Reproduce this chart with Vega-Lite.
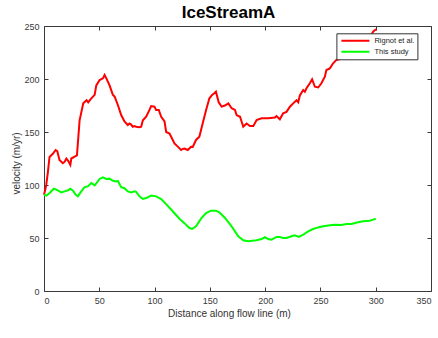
{
  "$schema": "https://vega.github.io/schema/vega-lite/v6.json",
  "width": 387,
  "height": 265,
  "autosize": "none",
  "padding": {"left": 44, "top": 26, "right": 7, "bottom": 47},
  "background": "white",
  "title": {"text": "IceStreamA", "fontSize": 17, "font": "Liberation Sans", "fontWeight": "bold", "color": "#000000", "anchor": "middle", "dx": -9, "offset": 0},
  "config": {
    "font": "Liberation Sans",
    "view": {"stroke": "#3a3a3a", "strokeWidth": 1},
    "axis": {
      "domain": false, "grid": false, "tickSize": 4, "offset": -4, "tickColor": "#3a3a3a", "tickWidth": 1,
      "labelFont": "Liberation Sans", "labelFontSize": 9, "labelColor": "#3a3a3a", "labelPadding": 5,
      "titleFont": "Liberation Sans", "titleFontSize": 10, "titleFontWeight": "normal", "titleColor": "#333333"
    },
    "legend": {
      "orient": "none", "legendX": 292.4, "legendY": 7.3,
      "fillColor": "white", "strokeColor": "#333333", "padding": 2,
      "symbolType": "stroke", "symbolSize": 784, "symbolStrokeWidth": 2, "symbolOffset": 2,
      "clipHeight": 11, "rowPadding": 0,
      "labelFont": "Liberation Sans", "labelFontSize": 7.5, "labelColor": "#222222",
      "labelOffset": 4
    }
  },
  "data": {"values": [
    {"series": "Rignot et al.", "x": 0, "y": 90.8},
    {"series": "Rignot et al.", "x": 1, "y": 95},
    {"series": "Rignot et al.", "x": 2, "y": 100},
    {"series": "Rignot et al.", "x": 3.5, "y": 112},
    {"series": "Rignot et al.", "x": 5, "y": 126.5},
    {"series": "Rignot et al.", "x": 8, "y": 129.5},
    {"series": "Rignot et al.", "x": 10.5, "y": 133},
    {"series": "Rignot et al.", "x": 12, "y": 132},
    {"series": "Rignot et al.", "x": 14, "y": 123.6},
    {"series": "Rignot et al.", "x": 17, "y": 120.5},
    {"series": "Rignot et al.", "x": 18.7, "y": 122},
    {"series": "Rignot et al.", "x": 20.2, "y": 125},
    {"series": "Rignot et al.", "x": 21.7, "y": 123},
    {"series": "Rignot et al.", "x": 23.8, "y": 119},
    {"series": "Rignot et al.", "x": 24.7, "y": 125},
    {"series": "Rignot et al.", "x": 27.7, "y": 126.7},
    {"series": "Rignot et al.", "x": 29.8, "y": 128},
    {"series": "Rignot et al.", "x": 32.2, "y": 161},
    {"series": "Rignot et al.", "x": 35.5, "y": 177},
    {"series": "Rignot et al.", "x": 38.5, "y": 180},
    {"series": "Rignot et al.", "x": 40, "y": 178},
    {"series": "Rignot et al.", "x": 42.8, "y": 181.7},
    {"series": "Rignot et al.", "x": 45.8, "y": 185},
    {"series": "Rignot et al.", "x": 47.3, "y": 194},
    {"series": "Rignot et al.", "x": 50.3, "y": 199},
    {"series": "Rignot et al.", "x": 53.3, "y": 200.6},
    {"series": "Rignot et al.", "x": 54.8, "y": 203.8},
    {"series": "Rignot et al.", "x": 56.4, "y": 200.6},
    {"series": "Rignot et al.", "x": 59.3, "y": 194},
    {"series": "Rignot et al.", "x": 62.3, "y": 185},
    {"series": "Rignot et al.", "x": 63.8, "y": 183.6},
    {"series": "Rignot et al.", "x": 66.8, "y": 175.5},
    {"series": "Rignot et al.", "x": 69.8, "y": 166},
    {"series": "Rignot et al.", "x": 72.8, "y": 160},
    {"series": "Rignot et al.", "x": 75.8, "y": 156.6},
    {"series": "Rignot et al.", "x": 77.3, "y": 158},
    {"series": "Rignot et al.", "x": 78.8, "y": 157},
    {"series": "Rignot et al.", "x": 80.3, "y": 155},
    {"series": "Rignot et al.", "x": 81.8, "y": 155.6},
    {"series": "Rignot et al.", "x": 83.3, "y": 155},
    {"series": "Rignot et al.", "x": 86.4, "y": 154.4},
    {"series": "Rignot et al.", "x": 87.9, "y": 155},
    {"series": "Rignot et al.", "x": 89.4, "y": 161},
    {"series": "Rignot et al.", "x": 92.4, "y": 164.4},
    {"series": "Rignot et al.", "x": 95.4, "y": 170.8},
    {"series": "Rignot et al.", "x": 96.9, "y": 174.5},
    {"series": "Rignot et al.", "x": 99.9, "y": 173.9},
    {"series": "Rignot et al.", "x": 101.4, "y": 170.8},
    {"series": "Rignot et al.", "x": 103.8, "y": 170.8},
    {"series": "Rignot et al.", "x": 106, "y": 164.4},
    {"series": "Rignot et al.", "x": 109, "y": 160},
    {"series": "Rignot et al.", "x": 110.5, "y": 150},
    {"series": "Rignot et al.", "x": 113.5, "y": 148.6},
    {"series": "Rignot et al.", "x": 115, "y": 145.6},
    {"series": "Rignot et al.", "x": 118, "y": 139.3},
    {"series": "Rignot et al.", "x": 121, "y": 136.2},
    {"series": "Rignot et al.", "x": 124, "y": 133},
    {"series": "Rignot et al.", "x": 125.5, "y": 134},
    {"series": "Rignot et al.", "x": 127, "y": 134.3},
    {"series": "Rignot et al.", "x": 130, "y": 133},
    {"series": "Rignot et al.", "x": 133, "y": 136.1},
    {"series": "Rignot et al.", "x": 134.5, "y": 136},
    {"series": "Rignot et al.", "x": 137.5, "y": 142.5},
    {"series": "Rignot et al.", "x": 140.5, "y": 145.6},
    {"series": "Rignot et al.", "x": 143.5, "y": 158},
    {"series": "Rignot et al.", "x": 146.6, "y": 170.8},
    {"series": "Rignot et al.", "x": 149.6, "y": 181.8},
    {"series": "Rignot et al.", "x": 152, "y": 185},
    {"series": "Rignot et al.", "x": 154, "y": 186.5},
    {"series": "Rignot et al.", "x": 155.5, "y": 188},
    {"series": "Rignot et al.", "x": 158, "y": 178},
    {"series": "Rignot et al.", "x": 160.6, "y": 173.9},
    {"series": "Rignot et al.", "x": 163.6, "y": 175},
    {"series": "Rignot et al.", "x": 166.7, "y": 177},
    {"series": "Rignot et al.", "x": 169.7, "y": 172.4},
    {"series": "Rignot et al.", "x": 172.7, "y": 170.8},
    {"series": "Rignot et al.", "x": 174.2, "y": 166},
    {"series": "Rignot et al.", "x": 177.3, "y": 164.4},
    {"series": "Rignot et al.", "x": 180.2, "y": 155},
    {"series": "Rignot et al.", "x": 183.2, "y": 158},
    {"series": "Rignot et al.", "x": 186.3, "y": 155.6},
    {"series": "Rignot et al.", "x": 189.3, "y": 155.7},
    {"series": "Rignot et al.", "x": 192.3, "y": 161.3},
    {"series": "Rignot et al.", "x": 196.8, "y": 163},
    {"series": "Rignot et al.", "x": 202.8, "y": 163},
    {"series": "Rignot et al.", "x": 208.8, "y": 163.6},
    {"series": "Rignot et al.", "x": 210.3, "y": 165},
    {"series": "Rignot et al.", "x": 213.3, "y": 162},
    {"series": "Rignot et al.", "x": 216.3, "y": 167.6},
    {"series": "Rignot et al.", "x": 219.3, "y": 169},
    {"series": "Rignot et al.", "x": 222.4, "y": 173.9},
    {"series": "Rignot et al.", "x": 225.4, "y": 177},
    {"series": "Rignot et al.", "x": 228.4, "y": 180},
    {"series": "Rignot et al.", "x": 229.9, "y": 178},
    {"series": "Rignot et al.", "x": 231.4, "y": 184.5},
    {"series": "Rignot et al.", "x": 234.4, "y": 189.6},
    {"series": "Rignot et al.", "x": 235.9, "y": 188},
    {"series": "Rignot et al.", "x": 237.4, "y": 191.2},
    {"series": "Rignot et al.", "x": 240.4, "y": 196},
    {"series": "Rignot et al.", "x": 242.5, "y": 199.7},
    {"series": "Rignot et al.", "x": 245, "y": 192.7},
    {"series": "Rignot et al.", "x": 248, "y": 192},
    {"series": "Rignot et al.", "x": 250.9, "y": 196},
    {"series": "Rignot et al.", "x": 254, "y": 202.2},
    {"series": "Rignot et al.", "x": 255.4, "y": 208.5},
    {"series": "Rignot et al.", "x": 258.5, "y": 210},
    {"series": "Rignot et al.", "x": 261.5, "y": 214.8},
    {"series": "Rignot et al.", "x": 264.5, "y": 218},
    {"series": "Rignot et al.", "x": 268, "y": 219},
    {"series": "Rignot et al.", "x": 272, "y": 222},
    {"series": "Rignot et al.", "x": 277, "y": 226},
    {"series": "Rignot et al.", "x": 282, "y": 230},
    {"series": "Rignot et al.", "x": 287, "y": 234},
    {"series": "Rignot et al.", "x": 292, "y": 238},
    {"series": "Rignot et al.", "x": 296, "y": 242},
    {"series": "Rignot et al.", "x": 298, "y": 245},
    {"series": "Rignot et al.", "x": 300.5, "y": 247},
    {"series": "This study", "x": 0, "y": 90.8},
    {"series": "This study", "x": 2.1, "y": 90},
    {"series": "This study", "x": 5.1, "y": 92.5},
    {"series": "This study", "x": 8.8, "y": 96.5},
    {"series": "This study", "x": 11.2, "y": 95.6},
    {"series": "This study", "x": 15.7, "y": 93},
    {"series": "This study", "x": 18.7, "y": 94},
    {"series": "This study", "x": 21.7, "y": 95},
    {"series": "This study", "x": 23.8, "y": 96.5},
    {"series": "This study", "x": 26.2, "y": 94.6},
    {"series": "This study", "x": 28.6, "y": 91},
    {"series": "This study", "x": 30.7, "y": 89.3},
    {"series": "This study", "x": 33.7, "y": 94},
    {"series": "This study", "x": 36.7, "y": 98},
    {"series": "This study", "x": 39.7, "y": 98.7},
    {"series": "This study", "x": 42.8, "y": 101.9},
    {"series": "This study", "x": 45.8, "y": 99.7},
    {"series": "This study", "x": 47.3, "y": 101.5},
    {"series": "This study", "x": 50.3, "y": 105.7},
    {"series": "This study", "x": 53.3, "y": 107.2},
    {"series": "This study", "x": 56.3, "y": 105.7},
    {"series": "This study", "x": 59.3, "y": 106},
    {"series": "This study", "x": 62.3, "y": 104},
    {"series": "This study", "x": 65.3, "y": 103.4},
    {"series": "This study", "x": 66.8, "y": 103.8},
    {"series": "This study", "x": 69.8, "y": 98},
    {"series": "This study", "x": 72.8, "y": 97},
    {"series": "This study", "x": 75.8, "y": 94},
    {"series": "This study", "x": 78.8, "y": 93},
    {"series": "This study", "x": 81.8, "y": 94},
    {"series": "This study", "x": 83.3, "y": 93.5},
    {"series": "This study", "x": 86.4, "y": 89.3},
    {"series": "This study", "x": 89.4, "y": 86.8},
    {"series": "This study", "x": 92.4, "y": 87.7},
    {"series": "This study", "x": 96.9, "y": 90},
    {"series": "This study", "x": 101.4, "y": 89.3},
    {"series": "This study", "x": 106, "y": 86.8},
    {"series": "This study", "x": 110.5, "y": 82},
    {"series": "This study", "x": 116.4, "y": 75.2},
    {"series": "This study", "x": 122.5, "y": 68.2},
    {"series": "This study", "x": 127, "y": 64},
    {"series": "This study", "x": 131.5, "y": 59.4},
    {"series": "This study", "x": 134, "y": 58.5},
    {"series": "This study", "x": 137.5, "y": 61},
    {"series": "This study", "x": 142, "y": 68.2},
    {"series": "This study", "x": 146.6, "y": 73.6},
    {"series": "This study", "x": 151, "y": 75.8},
    {"series": "This study", "x": 155.5, "y": 75.8},
    {"series": "This study", "x": 158.6, "y": 74.2},
    {"series": "This study", "x": 163.7, "y": 68.9},
    {"series": "This study", "x": 169.7, "y": 61},
    {"series": "This study", "x": 175.7, "y": 51.6},
    {"series": "This study", "x": 180.2, "y": 47.8},
    {"series": "This study", "x": 184.7, "y": 46.9},
    {"series": "This study", "x": 192.2, "y": 47.8},
    {"series": "This study", "x": 196.7, "y": 49},
    {"series": "This study", "x": 199.8, "y": 50.7},
    {"series": "This study", "x": 202.8, "y": 49},
    {"series": "This study", "x": 205.8, "y": 48.4},
    {"series": "This study", "x": 210.3, "y": 51},
    {"series": "This study", "x": 213.3, "y": 51},
    {"series": "This study", "x": 216.3, "y": 50},
    {"series": "This study", "x": 219.3, "y": 50},
    {"series": "This study", "x": 223.8, "y": 51.6},
    {"series": "This study", "x": 226.8, "y": 52.5},
    {"series": "This study", "x": 230.5, "y": 51},
    {"series": "This study", "x": 234.4, "y": 53.1},
    {"series": "This study", "x": 238.9, "y": 56.3},
    {"series": "This study", "x": 243.4, "y": 58.5},
    {"series": "This study", "x": 247.9, "y": 60},
    {"series": "This study", "x": 252.4, "y": 61},
    {"series": "This study", "x": 258.7, "y": 62},
    {"series": "This study", "x": 263, "y": 62.6},
    {"series": "This study", "x": 269, "y": 62.3},
    {"series": "This study", "x": 273.5, "y": 63.2},
    {"series": "This study", "x": 278, "y": 63.2},
    {"series": "This study", "x": 284, "y": 64.8},
    {"series": "This study", "x": 288.5, "y": 65.7},
    {"series": "This study", "x": 294.5, "y": 66.3},
    {"series": "This study", "x": 297.6, "y": 67.3},
    {"series": "This study", "x": 300, "y": 68.2}
  ]},
  "layer": [
    {
      "mark": {"type": "line", "strokeWidth": 2},
      "encoding": {
        "x": {"field": "x", "type": "quantitative", "scale": {"domain": [0, 350], "nice": false},
              "axis": {"orient": "bottom", "values": [0, 50, 100, 150, 200, 250, 300, 350], "title": "Distance along flow line (m)",
                       "titleX": 185, "titleY": 29, "titleBaseline": "alphabetic", "titleAlign": "center"}},
        "y": {"field": "y", "type": "quantitative", "scale": {"domain": [0, 250], "nice": false},
              "axis": {"orient": "left", "values": [0, 50, 100, 150, 200, 250], "title": "velocity (m/yr)",
                       "titleX": -32, "titleY": 137, "titleAngle": -90, "titleBaseline": "middle", "titleAlign": "center"}},
        "color": {"field": "series", "type": "nominal",
                  "scale": {"domain": ["Rignot et al.", "This study"], "range": ["#ff0000", "#00ff00"]},
                  "legend": {"title": null, "labelExpr": "datum.label + '\u00a0\u00a0\u00a0\u00a0\u00a0'"}}
      }
    },
    {
      "mark": {"type": "line", "opacity": 0},
      "encoding": {
        "x": {"field": "x", "type": "quantitative",
              "axis": {"orient": "top", "values": [0, 50, 100, 150, 200, 250, 300, 350], "labels": false, "title": null}},
        "y": {"field": "y", "type": "quantitative",
              "axis": {"orient": "right", "values": [0, 50, 100, 150, 200, 250], "labels": false, "title": null}},
        "detail": {"field": "series"}
      }
    }
  ],
  "resolve": {"axis": {"x": "independent", "y": "independent"}}
}
